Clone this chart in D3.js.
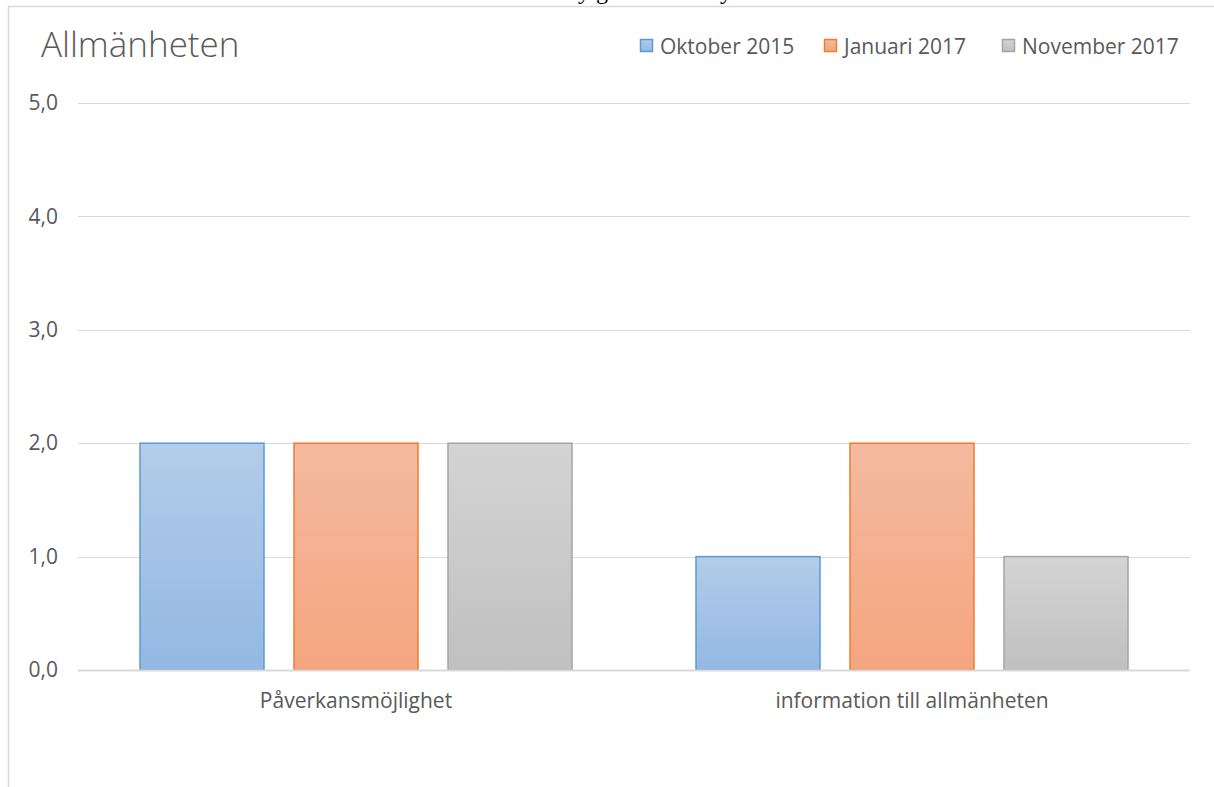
<!DOCTYPE html>
<html>
<head>
<meta charset="utf-8">
<script src="https://cdn.jsdelivr.net/npm/d3@7"></script>
<style>
  body { margin: 0; background: #fff; }
  svg { display: block; }
  text { font-family: "Open Sans", sans-serif; fill: #595959; }
</style>
</head>
<body>
<div id="chart"></div>
<script>
// chart data
const categories = ["Påverkansmöjlighet", "information till allmänheten"];
const seriesNames = ["Oktober 2015", "Januari 2017", "November 2017"];
const oktober2015 = [2, 1];
const januari2017 = [2, 2];
const november2017 = [2, 1];
const yTicks = [0, 1, 2, 3, 4, 5];

const seriesValues = [oktober2015, januari2017, november2017];
const seriesStyle = [
    {top: "#b3cce9", bottom: "#93b8e3", stroke: "#5b9bd5"},
    {top: "#f4baa0", bottom: "#f5a57f", stroke: "#ed7d31"},
    {top: "#d4d4d4", bottom: "#c0c0c0", stroke: "#a5a5a5"}
];

const W = 1214, H = 787;
const margin = {top: 103, right: 24, bottom: 117, left: 78};
const plotW = W - margin.left - margin.right;
const plotH = H - margin.top - margin.bottom;

let svg = d3.select("#chart")
    .append("svg")
    .attr("width", W)
    .attr("height", H);

// gradients for the bars
let defs = svg.append("defs");
seriesStyle.forEach(function(s, i) {
    let g = defs.append("linearGradient")
        .attr("id", "grad" + i)
        .attr("x1", 0).attr("y1", 0).attr("x2", 0).attr("y2", 1);
    g.append("stop").attr("offset", "0%").attr("stop-color", s.top);
    g.append("stop").attr("offset", "100%").attr("stop-color", s.bottom);
});

// page text cut off above the chart (only descenders visible)
svg.append("text")
    .attr("x", 578).attr("y", -1)
    .style("font-family", "'Liberation Serif', serif")
    .style("font-size", "24px")
    .style("fill", "#000")
    .text("y g");
svg.append("text")
    .attr("x", 720).attr("y", -1)
    .style("font-family", "'Liberation Serif', serif")
    .style("font-size", "24px")
    .style("fill", "#000")
    .text("y");

// chart frame (runs off the right and bottom)
svg.append("rect")
    .attr("x", 8.5).attr("y", 6.5)
    .attr("width", W + 20).attr("height", H + 20)
    .attr("fill", "none")
    .attr("stroke", "#d9d9d9")
    .attr("stroke-width", 1.5);

let g = svg.append("g")
    .attr("transform", `translate(${margin.left}, ${margin.top})`);

let y = d3.scaleLinear()
    .domain([0, 5])
    .range([plotH, 0]);

let x0 = d3.scaleBand()
    .domain(categories)
    .range([0, plotW])
    .paddingInner(0)
    .paddingOuter(0);

let x1 = d3.scaleBand()
    .domain(seriesNames)
    .range([62, x0.bandwidth() - 62])
    .paddingInner(30 / 154);

// gridlines
g.append("g")
    .selectAll("line")
    .data(yTicks)
    .enter()
    .append("line")
    .attr("x1", 0)
    .attr("x2", plotW)
    .attr("y1", function(d) { return Math.round(y(d)) + 0.5; })
    .attr("y2", function(d) { return Math.round(y(d)) + 0.5; })
    .attr("stroke", "#d9d9d9")
    .attr("stroke-width", 1);

// y axis labels
let yAxis = g.append("g")
    .call(d3.axisLeft(y).tickValues(yTicks).tickSize(0).tickPadding(20)
        .tickFormat(function(d) { return d3.format(".1f")(d).replace(".", ","); }));
yAxis.select(".domain").remove();
yAxis.selectAll("text")
    .style("font-size", "21px")
    .style("font-family", "'Open Sans', sans-serif")
    .attr("fill", "#595959");

// bars
let groups = g.selectAll(".cat")
    .data(categories)
    .enter()
    .append("g")
    .attr("transform", function(d) { return `translate(${x0(d)}, 0)`; });

groups.selectAll("rect")
    .data(function(d, ci) {
        return seriesNames.map(function(s, si) {
            return {series: s, si: si, value: seriesValues[si][ci]};
        });
    })
    .enter()
    .append("rect")
    .attr("x", function(d) { return x1(d.series); })
    .attr("y", function(d) { return y(d.value); })
    .attr("width", x1.bandwidth())
    .attr("height", function(d) { return y(0) - y(d.value); })
    .attr("fill", function(d) { return `url(#grad${d.si})`; })
    .attr("stroke", function(d) { return seriesStyle[d.si].stroke; })
    .attr("stroke-width", 1.5);

// baseline
g.append("line")
    .attr("x1", 0).attr("x2", plotW)
    .attr("y1", y(0) + 0.5).attr("y2", y(0) + 0.5)
    .attr("stroke", "#d9d9d9")
    .attr("stroke-width", 2);

// category labels
let xAxis = g.append("g")
    .attr("transform", `translate(0, ${plotH})`)
    .call(d3.axisBottom(x0).tickSize(0).tickPadding(23));
xAxis.select(".domain").remove();
xAxis.selectAll("text")
    .style("font-size", "21px")
    .style("font-family", "'Open Sans', sans-serif")
    .attr("fill", "#595959");

// title
svg.append("text")
    .attr("x", 41)
    .attr("y", 57)
    .style("font-size", "35px")
    .style("font-weight", 300)
    .text("Allmänheten");

// legend
const legendX = [640, 824, 1002];
let legend = svg.selectAll(".legend")
    .data(seriesNames)
    .enter()
    .append("g")
    .attr("transform", function(d, i) { return `translate(${legendX[i]}, 39)`; });

legend.append("rect")
    .attr("x", 0.5).attr("y", 0.5)
    .attr("width", 12).attr("height", 12)
    .attr("fill", function(d, i) { return `url(#grad${i})`; })
    .attr("stroke", function(d, i) { return seriesStyle[i].stroke; })
    .attr("stroke-width", 1.5);

legend.append("text")
    .attr("x", 20)
    .attr("y", 15)
    .style("font-size", "21px")
    .text(function(d) { return d; });
</script>
</body>
</html>
